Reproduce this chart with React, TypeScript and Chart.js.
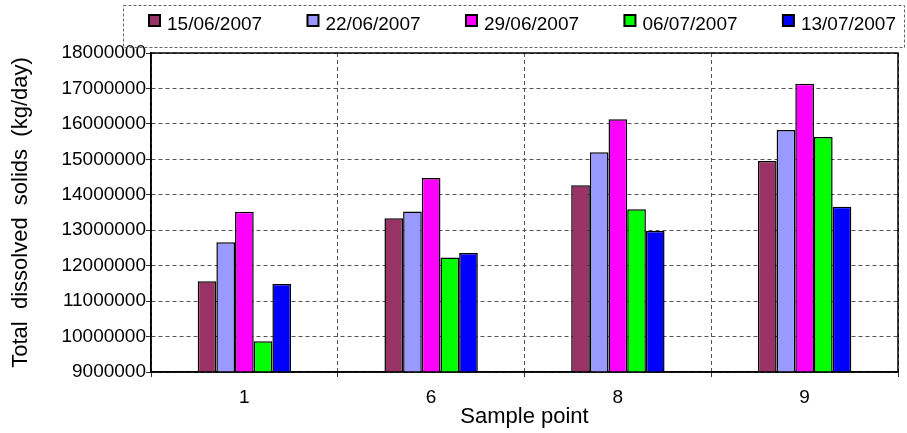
import React, { useEffect, useRef } from "react";
import { Chart, registerables } from "chart.js";

Chart.register(...registerables);

const categories = ["1", "6", "8", "9"];
const seriesLabels = ["15/06/2007", "22/06/2007", "29/06/2007", "06/07/2007", "13/07/2007"];
const series1506 = [11560000, 13340000, 14270000, 14950000];
const series2206 = [12660000, 13530000, 15200000, 15830000];
const series2906 = [13520000, 14470000, 16130000, 17130000];
const series0607 = [9870000, 12230000, 13590000, 15630000];
const series1307 = [11480000, 12360000, 12980000, 13660000];
const seriesColors = ["#993366", "#9999FF", "#FF00FF", "#00FF00", "#0000FF"];
const yMin = 9000000;
const yMax = 18000000;
const yStep = 1000000;
const xTitle = "Sample point";
const yTitle = "Total  dissolved  solids  (kg/day)";

const FONT = '"Liberation Sans", Arial, sans-serif';

const legendPlugin = {
  id: "boxLegend",
  afterDraw(chart: any) {
    const { ctx, chartArea } = chart;
    ctx.save();
    ctx.setLineDash([3, 2]);
    ctx.strokeStyle = "#666";
    ctx.lineWidth = 1;
    ctx.strokeRect(123.5, 5.5, 781, 42);
    ctx.setLineDash([]);
    ctx.font = "19px " + FONT;
    ctx.textBaseline = "middle";
    ctx.textAlign = "left";
    const box = 11;
    const gap = 7;
    const items = chart.data.datasets.map((d: any) => ({
      label: d.label,
      color: d.backgroundColor,
      w: ctx.measureText(d.label).width,
    }));
    const startX = chartArea.left - 2;
    const endX = chartArea.right - 2;
    const total = items.reduce((s: number, it: any) => s + box + gap + it.w, 0);
    const spacing = (endX - startX - total) / (items.length - 1);
    let x = startX;
    items.forEach((it: any) => {
      ctx.fillStyle = it.color;
      ctx.fillRect(x, 15, box, box);
      ctx.strokeStyle = "#000";
      ctx.lineWidth = 2;
      ctx.strokeRect(x, 15, box, box);
      ctx.fillStyle = "#000";
      ctx.fillText(it.label, x + box + gap, 24.5);
      x += box + gap + it.w + spacing;
    });
    ctx.restore();
  },
};

const framePlugin = {
  id: "frame",
  afterDraw(chart: any) {
    const { ctx, chartArea } = chart;
    ctx.save();
    ctx.setLineDash([]);
    ctx.strokeStyle = "#000";
    ctx.lineWidth = 1.5;
    ctx.strokeRect(chartArea.left, chartArea.top, chartArea.right - chartArea.left, chartArea.bottom - chartArea.top);
    ctx.restore();
  },
};

export default function App() {
  const ref = useRef<HTMLCanvasElement | null>(null);

  useEffect(() => {
    if (!ref.current) return;
    const values = [series1506, series2206, series2906, series0607, series1307];
    const chart = new Chart(ref.current, {
      type: "bar",
      data: {
        labels: categories,
        datasets: values.map((v, i) => ({
          label: seriesLabels[i],
          data: v,
          backgroundColor: seriesColors[i],
          borderColor: "#000",
          borderWidth: 1.5,
          categoryPercentage: 0.5,
          barPercentage: 1.0,
        })),
      },
      options: {
        responsive: false,
        animation: false,
        layout: { padding: { top: 53, right: 9, left: 0, bottom: 0 } },
        plugins: {
          legend: { display: false },
          tooltip: { enabled: false },
          title: { display: false },
        },
        scales: {
          x: {
            type: "category",
            offset: true,
            grid: {
              offset: true,
              color: "#555",
              tickBorderDash: [],
              tickColor: "#333",
              tickLength: 5,
              lineWidth: 1,
            } as any,
            border: { color: "#000", width: 1.5, dash: [4, 3] },
            ticks: {
              color: "#000",
              font: { family: FONT, size: 19 },
              padding: 9,
              maxRotation: 0,
            },
            title: {
              display: true,
              text: xTitle,
              color: "#000",
              font: { family: FONT, size: 22 },
              padding: { top: 0, bottom: 3 },
            },
            afterFit: (scale: any) => {
              scale.height = 61;
            },
          },
          y: {
            type: "linear",
            min: yMin,
            max: yMax,
            grid: {
              color: "#555",
              tickBorderDash: [],
              tickColor: "#333",
              tickLength: 5,
              lineWidth: 1,
            } as any,
            border: { color: "#000", width: 1.5, dash: [4, 3] },
            ticks: {
              stepSize: yStep,
              autoSkip: false,
              color: "#000",
              font: { family: FONT, size: 19 },
              padding: 0,
              callback: (v: any) => String(v),
            },
            title: {
              display: true,
              text: yTitle,
              color: "#000",
              font: { family: FONT, size: 22 },
              padding: { top: 8, bottom: 0 },
            },
            afterFit: (scale: any) => {
              scale.width = 151;
            },
          },
        },
      },
      plugins: [legendPlugin, framePlugin],
    });
    return () => chart.destroy();
  }, []);

  return (
    <div style={{ position: "absolute", left: 0, top: 0, width: 907, height: 433, background: "#fff" }}>
      <canvas ref={ref} width={907} height={433} style={{ display: "block" }} />
    </div>
  );
}
